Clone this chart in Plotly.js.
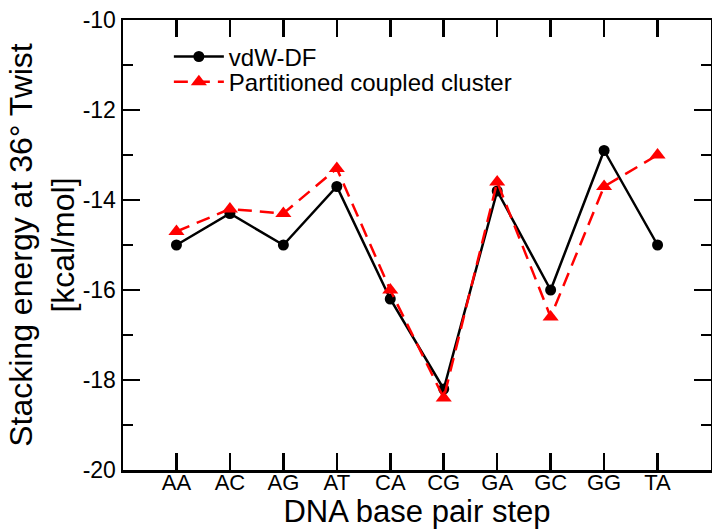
<!DOCTYPE html>
<html>
<head>
<meta charset="utf-8">
<script src="https://cdn.plot.ly/plotly-3.0.1.min.js"></script>
<style>html,body{margin:0;padding:0;background:#fff;}#chart{width:712px;height:529px;}</style>
</head>
<body>
<div id="chart"></div>
<script>
const steps = ["AA", "AC", "AG", "AT", "CA", "CG", "GA", "GC", "GG", "TA"];
const vdwDF = [-15.0, -14.3, -15.0, -13.7, -16.2, -18.2, -13.8, -16.0, -12.9, -15.0];
const coupledCluster = [-14.7, -14.2, -14.3, -13.3, -16.0, -18.4, -13.6, -16.6, -13.7, -13.0];
const yTickVals = [-20, -18, -16, -14, -12, -10];
const yTickText = ["-20", "-18", "-16", "-14", "-12", "-10"];

const font = "Liberation Sans, Arial, Helvetica, sans-serif";

const traces = [
  {
    x: steps, y: vdwDF, name: "vdW-DF", type: "scatter", mode: "lines+markers",
    line: {color: "#000000", width: 2.5},
    marker: {symbol: "circle", size: 11, color: "#000000"},
    legend: "legend"
  },
  {
    x: steps, y: coupledCluster, name: "Partitioned coupled cluster", type: "scatter", mode: "lines+markers",
    line: {color: "#ff0000", width: 2.5, dash: "14px,8px"},
    marker: {symbol: "triangle-up", size: 14, color: "#ff0000"},
    legend: "legend2"
  }
];

const legendBase = {
  xanchor: "left", yanchor: "middle",
  bgcolor: "rgba(0,0,0,0)", borderwidth: 0,
  font: {family: font, size: 24, color: "#000000"},
  itemwidth: 50
};

const layout = {
  width: 712, height: 529,
  margin: {l: 123, r: 1, t: 20, b: 59},
  paper_bgcolor: "#ffffff", plot_bgcolor: "#ffffff",
  font: {family: font, color: "#000000"},
  showlegend: true,
  legend: Object.assign({}, legendBase, {x: 0.078, y: 0.918}),
  legend2: Object.assign({}, legendBase, {x: 0.078, y: 0.862}),
  xaxis: {
    type: "category",
    range: [-1, 10],
    showgrid: false, zeroline: false,
    showline: true, linecolor: "#000000", linewidth: 2.5,
    mirror: "allticks",
    ticks: "inside", ticklen: 17, tickwidth: 2.5, tickcolor: "#000000",
    ticklabelstandoff: -9,
    tickfont: {family: font, size: 22, color: "#000000"},
    title: {text: "DNA base pair step", font: {family: font, size: 31, color: "#000000"}, standoff: 0},
    automargin: false
  },
  yaxis: {
    range: [-20, -10],
    tickvals: yTickVals, ticktext: yTickText,
    showgrid: false, zeroline: false,
    showline: true, linecolor: "#000000", linewidth: 2.5,
    mirror: "allticks",
    ticks: "inside", ticklen: 17, tickwidth: 2.5, tickcolor: "#000000",
    minor: {dtick: 1, ticks: "inside", ticklen: 10, tickwidth: 2.5, tickcolor: "#000000", showgrid: false},
    tickfont: {family: font, size: 23, color: "#000000"},
    title: {text: "Stacking energy at 36° Twist<br>[kcal/mol]", font: {family: font, size: 32, color: "#000000"}},
    automargin: false
  }
};

Plotly.newPlot("chart", traces, layout, {displayModeBar: false, staticPlot: true});
</script>
</body>
</html>
